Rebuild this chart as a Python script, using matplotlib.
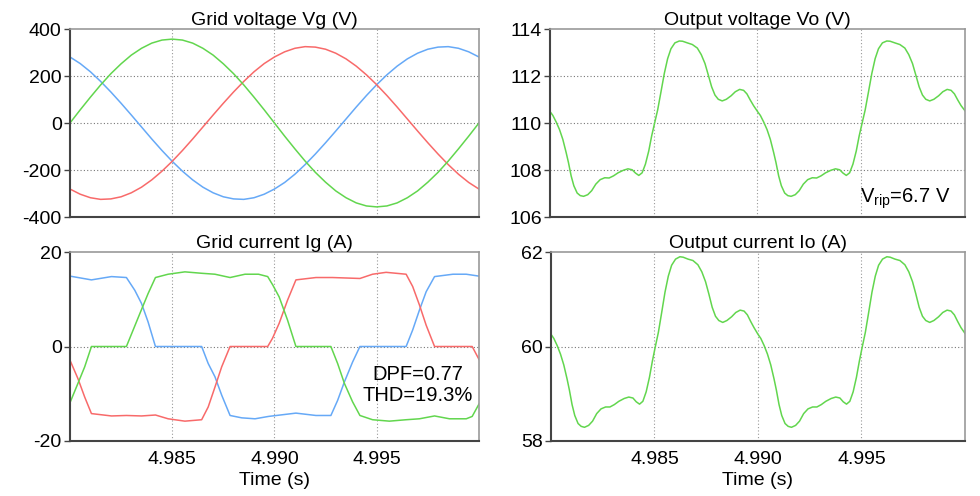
import numpy as np
import matplotlib
matplotlib.use('Agg')
import matplotlib.pyplot as plt

plt.rcParams['font.family'] = ['Liberation Sans', 'DejaVu Sans']
plt.rcParams['mathtext.fontset'] = 'custom'
plt.rcParams['mathtext.rm'] = 'Liberation Sans'
plt.rcParams['axes.unicode_minus'] = False

T0 = 4.98  # start of window (s); times below in ms from T0

# grid voltages, sampled every 0.5 ms
vg_t = [0.5 * k for k in range(41)]
vg_green = [0, 56, 110, 162, 210, 252, 289, 318, 340, 353, 357, 353, 340, 318, 289,
            252, 210, 162, 110, 56, 0, -56, -110, -162, -210, -252, -289, -318, -340,
            -353, -357, -353, -340, -318, -289, -252, -210, -162, -110, -56, 0]
vg_red = [-281, -303, -318, -325, -323, -314, -297, -273, -242, -205, -163, -117, -68,
          -17, 34, 84, 132, 177, 218, 253, 281, 303, 318, 325, 323, 314, 297, 273, 242,
          205, 163, 117, 68, 17, -34, -84, -132, -177, -218, -253, -281]
vg_blue = [281, 253, 218, 177, 132, 84, 34, -17, -68, -117, -163, -205, -242, -273,
           -297, -314, -323, -325, -318, -303, -281, -253, -218, -177, -132, -84, -34,
           17, 68, 117, 163, 205, 242, 273, 297, 314, 323, 325, 318, 303, 281]

# grid currents
ig_blue_t = [0.0, 1.05, 2.03, 2.76, 3.17, 3.50, 3.82, 4.18, 6.44, 6.76, 7.09, 7.42, 7.83,
             8.40, 9.05, 9.71, 11.05, 12.03, 12.76, 13.09, 13.42, 13.82, 14.18, 16.44,
             16.76, 17.09, 17.42, 17.83, 18.73, 19.38, 20.0]
ig_blue = [14.9, 14.1, 14.8, 14.6, 11.9, 9.1, 5.2, 0, 0, -3.6, -6.4, -10.3, -14.6,
           -15.1, -15.3, -14.8, -14.1, -14.6, -14.6, -11.4, -7.5, -3.3, 0, 0,
           3.5, 7.7, 11.6, 14.8, 15.3, 15.3, 14.9]
ig_green_t = [0.0, 0.39, 0.72, 1.05, 2.76, 3.09, 3.42, 3.82, 4.18, 4.80, 5.62, 6.44, 7.09,
              7.83, 8.56, 9.22, 9.67, 9.92, 10.23, 10.64, 11.05, 12.76, 13.09, 13.42,
              13.82, 14.18, 14.80, 15.62, 16.44, 17.09, 17.83, 18.56, 19.38, 19.67, 20.0]
ig_green = [-11.9, -7.8, -4.3, 0, 0, 3.5, 7.0, 11.2, 14.6, 15.3, 15.8, 15.5, 15.3,
            14.6, 15.3, 15.3, 14.8, 13.0, 10.5, 5.6, 0, 0, -3.6, -7.8,
            -11.7, -14.6, -15.5, -15.8, -15.5, -15.3, -14.7, -15.3, -15.3, -14.8, -12.2]
ig_red_t = [0.0, 0.39, 0.72, 1.05, 2.03, 2.76, 3.50, 4.18, 4.80, 5.62, 6.44, 6.76, 7.09,
            7.42, 7.83, 9.67, 9.90, 10.23, 10.64, 11.05, 12.03, 12.84, 14.18, 14.80,
            15.46, 16.44, 16.76, 17.09, 17.42, 17.83, 19.67, 20.0]
ig_red = [-2.9, -6.8, -10.7, -14.2, -14.7, -14.6, -14.7, -14.5, -15.3, -15.8, -15.5,
          -12.8, -8.6, -4.3, 0, 0, 1.7, 4.9, 9.8, 14.1, 14.6, 14.6, 14.4, 15.3,
          15.7, 15.3, 12.7, 8.8, 4.5, 0, 0, -2.7]

# output voltage and current
out_t = [0.00, 0.14, 0.30, 0.46, 0.62, 0.78, 0.89, 1.02, 1.15, 1.31, 1.46, 1.62, 1.82,
         2.01, 2.21, 2.42, 2.64, 2.85, 3.06, 3.28, 3.54, 3.76, 3.96, 4.12, 4.28, 4.44,
         4.60, 4.76, 4.90, 5.03, 5.19, 5.35, 5.51, 5.67, 5.83, 6.02, 6.23, 6.39, 6.62,
         6.86, 7.10, 7.29, 7.47, 7.63, 7.79, 7.95, 8.11, 8.30, 8.50, 8.73, 8.93, 9.14,
         9.33, 9.49, 9.65, 9.81,
         10.00, 10.14, 10.30, 10.46, 10.62, 10.78, 10.89, 11.02, 11.15, 11.31, 11.46,
         11.62, 11.82, 12.01, 12.21, 12.42, 12.64, 12.85, 13.06, 13.28, 13.54, 13.76,
         13.96, 14.12, 14.28, 14.44, 14.60, 14.76, 14.90, 15.03, 15.19, 15.35, 15.51,
         15.67, 15.83, 16.02, 16.23, 16.39, 16.62, 16.86, 17.10, 17.29, 17.47, 17.63,
         17.79, 17.95, 18.11, 18.30, 18.50, 18.73, 18.93, 19.14, 19.33, 19.49, 19.65,
         19.81, 20.00]
vo = [110.49, 110.32, 110.04, 109.72, 109.30, 108.74, 108.32, 107.75, 107.33, 107.02,
      106.91, 106.88, 106.95, 107.12, 107.40, 107.59, 107.67, 107.66, 107.75, 107.88,
      107.99, 108.05, 108.01, 107.87, 107.77, 107.88, 108.25, 108.81, 109.45, 109.95,
      110.56, 111.33, 112.11, 112.74, 113.16, 113.41, 113.49, 113.48, 113.41, 113.34,
      113.19, 112.91, 112.53, 112.04, 111.54, 111.19, 111.01, 110.94, 111.01, 111.16,
      111.33, 111.43, 111.39, 111.24, 110.98, 110.74,
      110.49, 110.32, 110.04, 109.72, 109.30, 108.74, 108.32, 107.75, 107.33, 107.02,
      106.91, 106.88, 106.95, 107.12, 107.40, 107.59, 107.67, 107.66, 107.75, 107.88,
      107.99, 108.05, 108.01, 107.87, 107.77, 107.88, 108.25, 108.81, 109.45, 109.95,
      110.56, 111.33, 112.11, 112.74, 113.16, 113.41, 113.49, 113.48, 113.41, 113.34,
      113.19, 112.91, 112.53, 112.04, 111.54, 111.19, 111.01, 110.94, 111.01, 111.16,
      111.33, 111.43, 111.39, 111.24, 110.98, 110.74, 110.52]
io = [60.26, 60.17, 60.02, 59.84, 59.61, 59.31, 59.08, 58.77, 58.54, 58.37,
      58.31, 58.29, 58.33, 58.42, 58.58, 58.68, 58.72, 58.72, 58.77, 58.84,
      58.90, 58.93, 58.91, 58.83, 58.78, 58.84, 59.04, 59.35, 59.69, 59.97,
      60.30, 60.72, 61.15, 61.49, 61.72, 61.85, 61.90, 61.89, 61.85, 61.82,
      61.73, 61.58, 61.37, 61.11, 60.83, 60.64, 60.55, 60.51, 60.55, 60.63,
      60.72, 60.77, 60.75, 60.67, 60.53, 60.40,
      60.26, 60.17, 60.02, 59.84, 59.61, 59.31, 59.08, 58.77, 58.54, 58.37,
      58.31, 58.29, 58.33, 58.42, 58.58, 58.68, 58.72, 58.72, 58.77, 58.84,
      58.90, 58.93, 58.91, 58.83, 58.78, 58.84, 59.04, 59.35, 59.69, 59.97,
      60.30, 60.72, 61.15, 61.49, 61.72, 61.85, 61.90, 61.89, 61.85, 61.82,
      61.73, 61.58, 61.37, 61.11, 60.83, 60.64, 60.55, 60.51, 60.55, 60.63,
      60.72, 60.77, 60.75, 60.67, 60.53, 60.40, 60.28]

RED = '#f86a6a'
GREEN = '#62d64e'
BLUE = '#66a9f7'
FS = 14


def sec(ms):
    return T0 + np.asarray(ms) / 1000.0


def style_axes(ax, yticks, ygrid, show_x):
    ax.set_xlim(4.98, 5.0)
    ax.set_ylim(yticks[0], yticks[-1])
    ax.set_yticks(yticks)
    ax.set_xticks([4.985, 4.990, 4.995])
    for y in ygrid:
        ax.axhline(y, color='#777777', lw=0.8, ls=(0, (1, 2)), zorder=0)
    for x in [4.985, 4.990, 4.995]:
        ax.axvline(x, color='#999999', lw=0.8, ls=(0, (1, 2)), zorder=0)
    ax.tick_params(axis='y', labelsize=FS, length=4, width=1, color='#444444', pad=2)
    ax.tick_params(axis='x', labelsize=FS, length=0, pad=7)
    if show_x:
        ax.set_xticklabels(['4.985', '4.990', '4.995'])
        ax.set_xlabel('Time (s)', fontsize=FS, labelpad=3)
    else:
        ax.set_xticklabels([])
    for s in ['left', 'bottom']:
        ax.spines[s].set_color('#444444')
        ax.spines[s].set_linewidth(1.5)
    for s in ['top', 'right']:
        ax.spines[s].set_color('#999999')
        ax.spines[s].set_linewidth(1.2)


fig = plt.figure(figsize=(9.8, 4.96), dpi=100)
ax_vg = fig.add_axes([0.0714, 0.5625, 0.4173, 0.379])
ax_vo = fig.add_axes([0.5612, 0.5625, 0.4235, 0.379])
ax_ig = fig.add_axes([0.0714, 0.1109, 0.4173, 0.381])
ax_io = fig.add_axes([0.5622, 0.1109, 0.4224, 0.381])

lw = 1.1
ax_vg.plot(sec(vg_t), vg_blue, color=BLUE, lw=lw)
ax_vg.plot(sec(vg_t), vg_red, color=RED, lw=lw)
ax_vg.plot(sec(vg_t), vg_green, color=GREEN, lw=lw)
style_axes(ax_vg, [-400, -200, 0, 200, 400], [-200, 0, 200], False)
ax_vg.set_title('Grid voltage Vg (V)', fontsize=FS, pad=3)

ax_vo.plot(sec(out_t), vo, color=GREEN, lw=lw)
style_axes(ax_vo, [106, 108, 110, 112, 114], [108, 110, 112], False)
ax_vo.set_title('Output voltage Vo (V)', fontsize=FS, pad=3)
ax_vo.text(4.99712, 106.77, r'V$_{\mathrm{rip}}$=6.7 V', fontsize=FS + 0.5,
           ha='center', va='center')

ax_ig.plot(sec(ig_blue_t), ig_blue, color=BLUE, lw=lw)
ax_ig.plot(sec(ig_red_t), ig_red, color=RED, lw=lw)
ax_ig.plot(sec(ig_green_t), ig_green, color=GREEN, lw=lw)
style_axes(ax_ig, [-20, 0, 20], [0], True)
ax_ig.set_title('Grid current Ig (A)', fontsize=FS, pad=3)
ax_ig.text(4.99701, -8.2, 'DPF=0.77\nTHD=19.3%', fontsize=FS + 0.5,
           ha='center', va='center', linespacing=1.15)

ax_io.plot(sec(out_t), io, color=GREEN, lw=lw)
style_axes(ax_io, [58, 60, 62], [60], True)
ax_io.set_title('Output current Io (A)', fontsize=FS, pad=3)

fig.savefig('out.png', dpi=100)
